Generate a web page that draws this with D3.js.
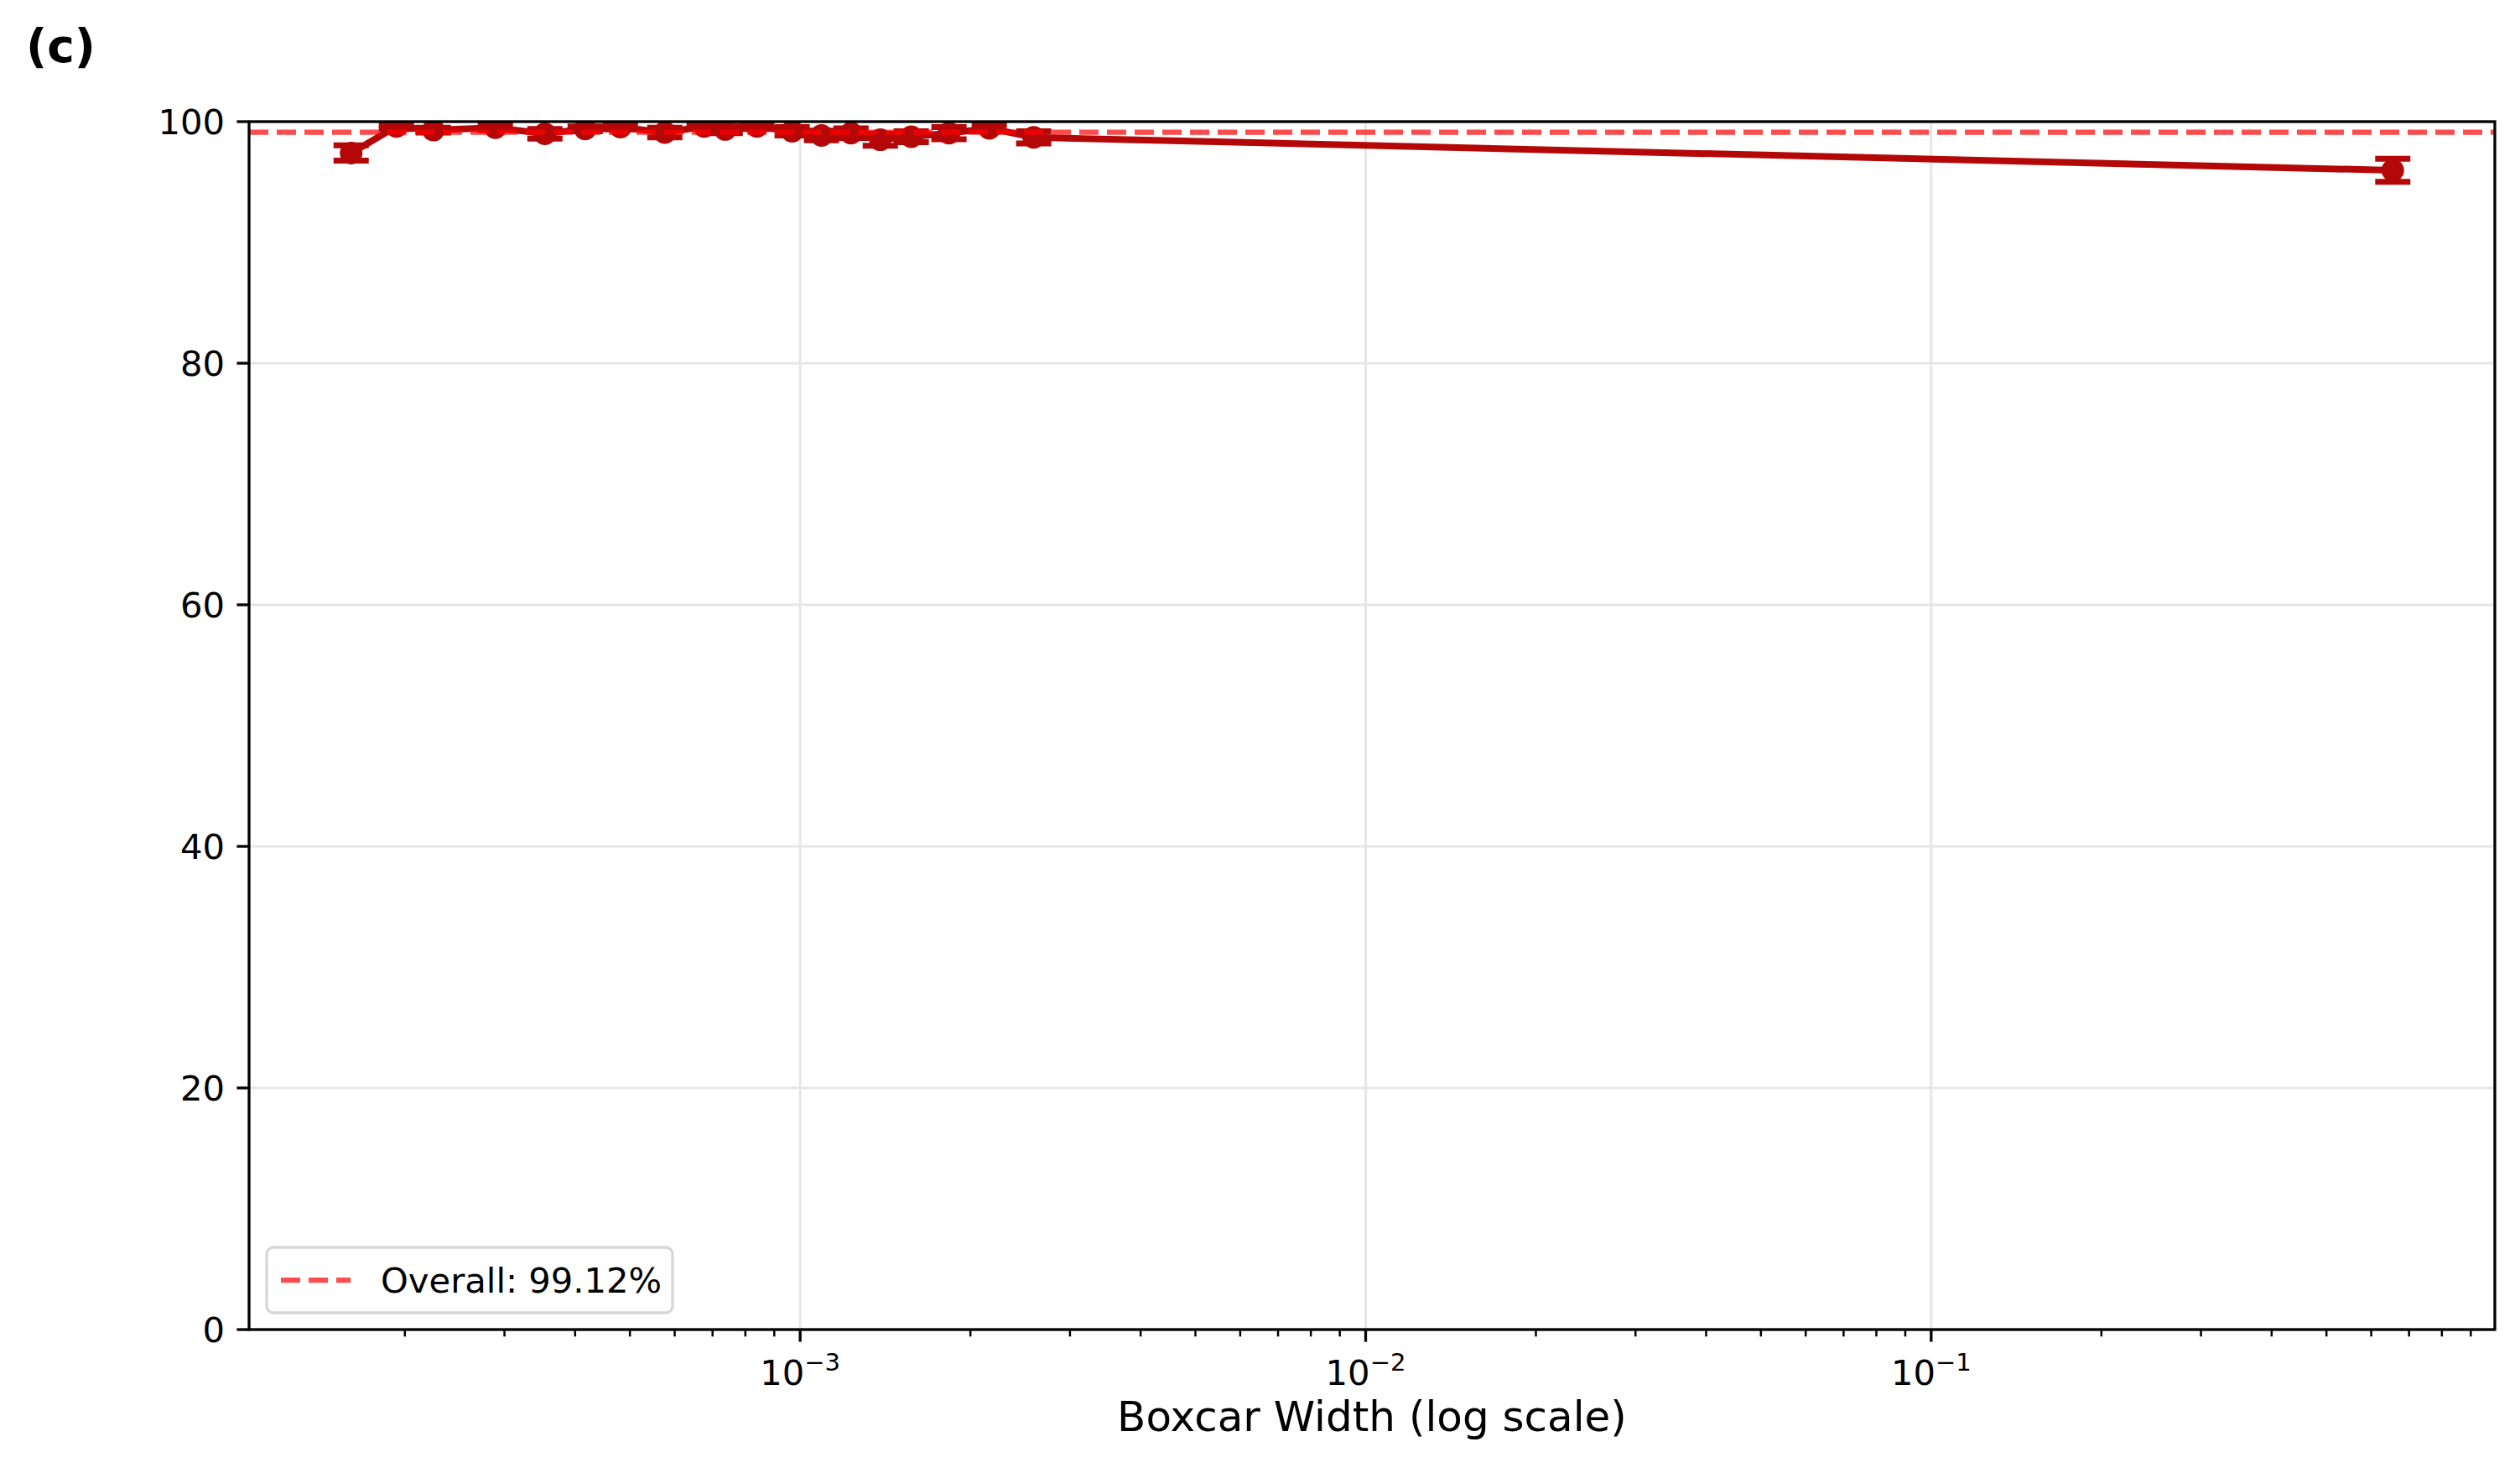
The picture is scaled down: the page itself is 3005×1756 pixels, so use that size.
<!DOCTYPE html>
<html>
<head>
<meta charset="utf-8">
<script src="https://cdn.jsdelivr.net/npm/d3@7"></script>
<style>
  html, body { margin: 0; padding: 0; background: #ffffff; }
  svg { display: block; font-family: "DejaVu Sans", sans-serif; }
</style>
</head>
<body>
<svg id="chart" width="3005" height="1756"></svg>
<script>
// ---- data ----
const boxcarWidths = [1.607e-4, 1.932e-4, 2.246e-4, 2.891e-4, 3.537e-4, 4.167e-4, 4.81e-4, 5.763e-4, 6.765e-4, 7.37e-4,
                      8.387e-4, 9.68e-4, 1.091e-3, 1.23e-3, 1.386e-3, 1.572e-3, 1.833e-3, 2.16e-3, 2.588e-3, 0.655];
const accuracy     = [97.4, 99.6, 99.3, 99.5, 99.0, 99.4, 99.55, 99.1, 99.6, 99.35,
                      99.6, 99.2, 98.85, 99.05, 98.5, 98.75, 99.05, 99.45, 98.7, 95.97];
const accuracyErr  = [0.63, 0.2, 0.2, 0.2, 0.4, 0.2, 0.2, 0.4, 0.15, 0.3,
                      0.2, 0.35, 0.4, 0.4, 0.5, 0.45, 0.5, 0.25, 0.5, 0.95];
const overallAcc = 99.12;
const yTicks = [0, 20, 40, 60, 80, 100];
const xMajorExps = [-3, -2, -1];
const panelLabel = "(c)";
const xLabel = "Boxcar Width (log scale)";
const legendLabel = "Overall: 99.12%";

// ---- layout ----
const L = 297, R = 2975, T = 145, B = 1585;
const svg = d3.select("#chart");
const lineColor = "#b40808";

const lmin = Math.log10(d3.min(boxcarWidths)), lmax = Math.log10(d3.max(boxcarWidths));
const pad = 0.05 * (lmax - lmin);
const x = d3.scaleLog().domain([Math.pow(10, lmin - pad), Math.pow(10, lmax + pad)]).range([L, R]);
const y = d3.scaleLinear().domain([0, 100]).range([B, T]);

svg.append("defs").append("clipPath").attr("id", "plotclip")
  .append("rect").attr("x", L).attr("y", T).attr("width", R - L).attr("height", B - T);

// grid
const gridG = svg.append("g");
yTicks.forEach(v => {
  gridG.append("line").attr("x1", L).attr("x2", R).attr("y1", y(v)).attr("y2", y(v))
    .attr("stroke", "#e6e6e6").attr("stroke-width", 3);
});
xMajorExps.forEach(e => {
  gridG.append("line").attr("x1", x(Math.pow(10, e))).attr("x2", x(Math.pow(10, e)))
    .attr("y1", T).attr("y2", B).attr("stroke", "#e6e6e6").attr("stroke-width", 3);
});

// data
const dataG = svg.append("g").attr("clip-path", "url(#plotclip)");
const pts = boxcarWidths.map((w, i) => ({ w, a: accuracy[i], e: accuracyErr[i] }));
const capHalf = 21;
pts.forEach(p => {
  const cx = x(p.w);
  dataG.append("line").attr("x1", cx).attr("x2", cx).attr("y1", y(p.a - p.e)).attr("y2", y(p.a + p.e))
    .attr("stroke", lineColor).attr("stroke-width", 8);
  [p.a - p.e, p.a + p.e].forEach(v => {
    dataG.append("line").attr("x1", cx - capHalf).attr("x2", cx + capHalf).attr("y1", y(v)).attr("y2", y(v))
      .attr("stroke", lineColor).attr("stroke-width", 7);
  });
});
dataG.append("path").datum(pts)
  .attr("d", d3.line().x(d => x(d.w)).y(d => y(d.a)))
  .attr("fill", "none").attr("stroke", lineColor).attr("stroke-width", 8).attr("stroke-linejoin", "round");
dataG.selectAll("circle.pt").data(pts).enter().append("circle")
  .attr("cx", d => x(d.w)).attr("cy", d => y(d.a)).attr("r", 13.5).attr("fill", lineColor);

// overall line
svg.append("line").attr("x1", L).attr("x2", R).attr("y1", y(overallAcc)).attr("y2", y(overallAcc))
  .attr("stroke", "red").attr("stroke-opacity", 0.7).attr("stroke-width", 6.25)
  .attr("stroke-dasharray", "23,10");

// axes frame
svg.append("rect").attr("x", L).attr("y", T).attr("width", R - L).attr("height", B - T)
  .attr("fill", "none").attr("stroke", "#000").attr("stroke-width", 3.3);

// y ticks
yTicks.forEach(v => {
  svg.append("line").attr("x1", L - 14.6).attr("x2", L).attr("y1", y(v)).attr("y2", y(v))
    .attr("stroke", "#000").attr("stroke-width", 3.3);
  svg.append("text").attr("x", L - 29).attr("y", y(v)).attr("dy", "0.36em")
    .attr("text-anchor", "end").attr("font-size", 41.7).attr("fill", "#000").text(v);
});

// x ticks (major + minor)
const [d0, d1] = x.domain();
for (let e = Math.floor(Math.log10(d0)); e <= Math.ceil(Math.log10(d1)); e++) {
  for (let m = 1; m <= 9; m++) {
    const v = m * Math.pow(10, e);
    if (v < d0 || v > d1) continue;
    const major = m === 1;
    svg.append("line").attr("x1", x(v)).attr("x2", x(v)).attr("y1", B).attr("y2", B + (major ? 14.6 : 8.3))
      .attr("stroke", "#000").attr("stroke-width", major ? 3.3 : 2.5);
  }
}
xMajorExps.forEach(e => {
  const t = svg.append("text").attr("x", x(Math.pow(10, e))).attr("y", 1651)
    .attr("text-anchor", "middle").attr("font-size", 41.7).attr("fill", "#000");
  t.append("tspan").text("10");
  t.append("tspan").attr("dy", -17).attr("font-size", 29).text("\u2212" + Math.abs(e));
});

// x label
svg.append("text").attr("x", (L + R) / 2).attr("y", 1706).attr("text-anchor", "middle")
  .attr("font-size", 50).attr("fill", "#000").text(xLabel);

// panel label
svg.append("text").attr("x", 31).attr("y", 74).attr("font-size", 55).attr("font-weight", "bold")
  .attr("fill", "#000").text(panelLabel);

// legend
const lg = svg.append("g");
lg.append("rect").attr("x", 318).attr("y", 1487).attr("width", 484).attr("height", 78).attr("rx", 8)
  .attr("fill", "#fff").attr("fill-opacity", 0.8).attr("stroke", "#d6d6d6").attr("stroke-width", 3.3);
lg.append("line").attr("x1", 335).attr("x2", 418).attr("y1", 1526).attr("y2", 1526)
  .attr("stroke", "red").attr("stroke-opacity", 0.7).attr("stroke-width", 6.25).attr("stroke-dasharray", "23,10");
lg.append("text").attr("x", 454).attr("y", 1541).attr("font-size", 41.7).attr("fill", "#000").text(legendLabel);
</script>
</body>
</html>
